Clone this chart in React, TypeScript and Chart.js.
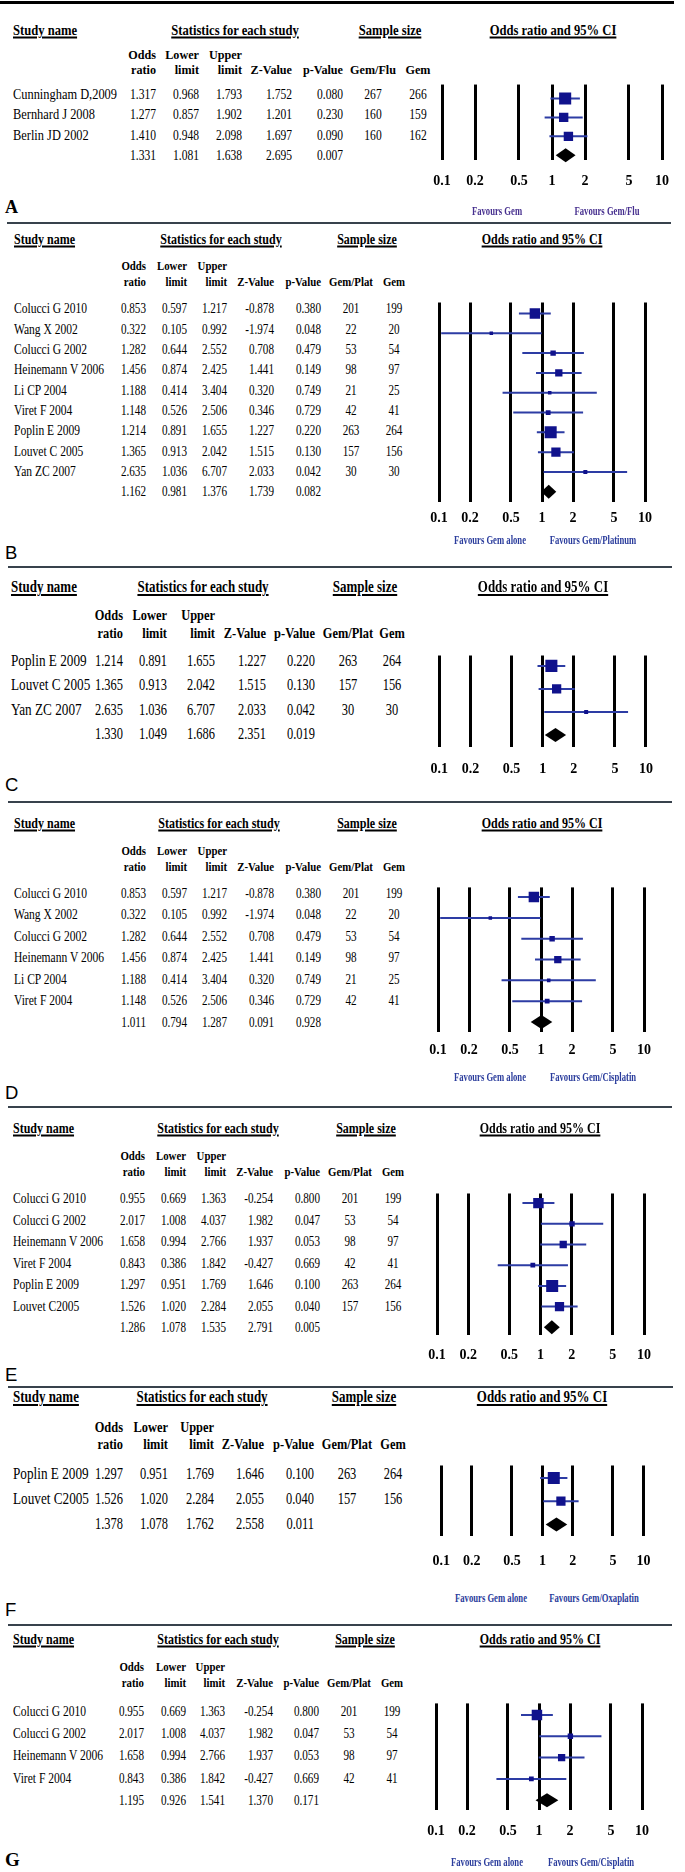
import React, { useEffect, useRef } from "react";
import { Chart, registerables } from "chart.js";

Chart.register(...registerables);

type Row = [string, number, number, number, number, number, number, number];
type Total = [number, number, number, number, number];

// ---- data ----
const TICK_VALUES = [0.1, 0.2, 0.5, 1, 2, 5, 10];

const A_ROWS: Row[] = [
  ["Cunningham D,2009", 1.317, 0.968, 1.793, 1.752, 0.08, 267, 266],
  ["Bernhard J 2008", 1.277, 0.857, 1.902, 1.201, 0.23, 160, 159],
  ["Berlin JD 2002", 1.41, 0.948, 2.098, 1.697, 0.09, 160, 162],
];
const A_TOTAL: Total = [1.331, 1.081, 1.638, 2.695, 0.007];

const B_ROWS: Row[] = [
  ["Colucci G 2010", 0.853, 0.597, 1.217, -0.878, 0.38, 201, 199],
  ["Wang X 2002", 0.322, 0.105, 0.992, -1.974, 0.048, 22, 20],
  ["Colucci G 2002", 1.282, 0.644, 2.552, 0.708, 0.479, 53, 54],
  ["Heinemann V 2006", 1.456, 0.874, 2.425, 1.441, 0.149, 98, 97],
  ["Li CP 2004", 1.188, 0.414, 3.404, 0.32, 0.749, 21, 25],
  ["Viret F 2004", 1.148, 0.526, 2.506, 0.346, 0.729, 42, 41],
  ["Poplin E 2009", 1.214, 0.891, 1.655, 1.227, 0.22, 263, 264],
  ["Louvet C 2005", 1.365, 0.913, 2.042, 1.515, 0.13, 157, 156],
  ["Yan ZC 2007", 2.635, 1.036, 6.707, 2.033, 0.042, 30, 30],
];
const B_TOTAL: Total = [1.162, 0.981, 1.376, 1.739, 0.082];

const C_ROWS: Row[] = [
  ["Poplin E 2009", 1.214, 0.891, 1.655, 1.227, 0.22, 263, 264],
  ["Louvet C 2005", 1.365, 0.913, 2.042, 1.515, 0.13, 157, 156],
  ["Yan ZC 2007", 2.635, 1.036, 6.707, 2.033, 0.042, 30, 30],
];
const C_TOTAL: Total = [1.33, 1.049, 1.686, 2.351, 0.019];

const D_ROWS: Row[] = [
  ["Colucci G 2010", 0.853, 0.597, 1.217, -0.878, 0.38, 201, 199],
  ["Wang X 2002", 0.322, 0.105, 0.992, -1.974, 0.048, 22, 20],
  ["Colucci G 2002", 1.282, 0.644, 2.552, 0.708, 0.479, 53, 54],
  ["Heinemann V 2006", 1.456, 0.874, 2.425, 1.441, 0.149, 98, 97],
  ["Li CP 2004", 1.188, 0.414, 3.404, 0.32, 0.749, 21, 25],
  ["Viret F 2004", 1.148, 0.526, 2.506, 0.346, 0.729, 42, 41],
];
const D_TOTAL: Total = [1.011, 0.794, 1.287, 0.091, 0.928];

const E_ROWS: Row[] = [
  ["Colucci G 2010", 0.955, 0.669, 1.363, -0.254, 0.8, 201, 199],
  ["Colucci G 2002", 2.017, 1.008, 4.037, 1.982, 0.047, 53, 54],
  ["Heinemann V 2006", 1.658, 0.994, 2.766, 1.937, 0.053, 98, 97],
  ["Viret F 2004", 0.843, 0.386, 1.842, -0.427, 0.669, 42, 41],
  ["Poplin E 2009", 1.297, 0.951, 1.769, 1.646, 0.1, 263, 264],
  ["Louvet C2005", 1.526, 1.02, 2.284, 2.055, 0.04, 157, 156],
];
const E_TOTAL: Total = [1.286, 1.078, 1.535, 2.791, 0.005];

const F_ROWS: Row[] = [
  ["Poplin E 2009", 1.297, 0.951, 1.769, 1.646, 0.1, 263, 264],
  ["Louvet C2005", 1.526, 1.02, 2.284, 2.055, 0.04, 157, 156],
];
const F_TOTAL: Total = [1.378, 1.078, 1.762, 2.558, 0.011];

const G_ROWS: Row[] = [
  ["Colucci G 2010", 0.955, 0.669, 1.363, -0.254, 0.8, 201, 199],
  ["Colucci G 2002", 2.017, 1.008, 4.037, 1.982, 0.047, 53, 54],
  ["Heinemann V 2006", 1.658, 0.994, 2.766, 1.937, 0.053, 98, 97],
  ["Viret F 2004", 0.843, 0.386, 1.842, -0.427, 0.669, 42, 41],
];
const G_TOTAL: Total = [1.195, 0.926, 1.541, 1.37, 0.171];

// ---- styles / layout ----
const SERIF = '"Liberation Serif", "Times New Roman", serif';
const SANS = '"Liberation Sans", Arial, sans-serif';
const MARKER = "#10128c";
const CI_LINE = "#2d3ca4";
const FAV_BLUE = "#2a3c9c";
const FAV_PURPLE = "#47308f";

interface Layout {
  letter: string; letterSerif: boolean; letterY: number; letterSize: number;
  sepY: number; sepW: number; sepColor: string; sepX0: number; sepX1: number;
  headY: number; headSize: number; headSx: number;
  studyX: number; statsX: number; sampleX: number; ciX: number;
  sub1: number; sub2: number; subSize: number; subSx: number;
  colR: number[]; colC: number[]; groupLabel: string;
  rowY: number; rowStep: number; rowSize: number; nameSx: number; numSx: number;
  fx0: number; fx1: number; lineTop: number; lineBot: number; tickY: number;
  favY?: number; favX?: number[]; favText?: string[]; favColor?: string;
}

const SMALL = { headSize: 15, headSx: 0.8, subSize: 13.5, subSx: 0.8, rowSize: 15.5, nameSx: 0.745, numSx: 0.72 };
const LARGE = { headSize: 16, headSx: 0.81, subSize: 15.5, subSx: 0.8, rowSize: 17.5, nameSx: 0.755, numSx: 0.71 };

const LAY_A: Layout = {
  letter: "A", letterSerif: true, letterY: 207, letterSize: 18,
  sepY: 2, sepW: 3, sepColor: "#000", sepX0: 0, sepX1: 674,
  headY: 30, headSize: 15, headSx: 0.84, studyX: 13, statsX: 235, sampleX: 390, ciX: 553,
  sub1: 55, sub2: 70, subSize: 13.5, subSx: 0.9,
  colR: [156, 199, 242, 292, 343], colC: [373, 418], groupLabel: "Gem/Flu",
  rowY: 94, rowStep: 20.3, rowSize: 15.5, nameSx: 0.8, numSx: 0.745,
  fx0: 442, fx1: 662, lineTop: 79, lineBot: 160, tickY: 181,
  favY: 211, favX: [497, 607], favText: ["Favours Gem", "Favours Gem/Flu"], favColor: FAV_PURPLE,
};
const LAY_B: Layout = {
  ...SMALL,
  letter: "B", letterSerif: false, letterY: 553, letterSize: 18.5,
  sepY: 223, sepW: 2.5, sepColor: "#38424c", sepX0: 7, sepX1: 671,
  headY: 239, studyX: 14, statsX: 220.5, sampleX: 367, ciX: 542,
  sub1: 266, sub2: 282, colR: [146, 186.7, 226.7, 274, 321], colC: [351, 394], groupLabel: "Gem/Plat",
  rowY: 308.3, rowStep: 20.35,
  fx0: 439, fx1: 645, lineTop: 297, lineBot: 502, tickY: 518,
  favY: 540, favX: [490, 593], favText: ["Favours Gem alone", "Favours Gem/Platinum"], favColor: FAV_BLUE,
};
const LAY_C: Layout = {
  ...LARGE,
  letter: "C", letterSerif: false, letterY: 785, letterSize: 18.5,
  sepY: 567, sepW: 2.5, sepColor: "#38424c", sepX0: 8, sepX1: 672,
  headY: 587, studyX: 11, statsX: 203, sampleX: 365, ciX: 543,
  sub1: 615, sub2: 633, colR: [123, 167, 215, 265.5, 315], colC: [348, 392], groupLabel: "Gem/Plat",
  rowY: 661, rowStep: 24.4,
  fx0: 439, fx1: 646, lineTop: 650, lineBot: 747, tickY: 769,
};
const LAY_D: Layout = {
  ...SMALL,
  letter: "D", letterSerif: false, letterY: 1093, letterSize: 18.5,
  sepY: 802, sepW: 2.5, sepColor: "#38424c", sepX0: 8, sepX1: 672,
  headY: 823, studyX: 14, statsX: 219.4, sampleX: 367, ciX: 542,
  sub1: 851, sub2: 867, colR: [145.5, 186.5, 227, 274, 321], colC: [351, 394], groupLabel: "Gem/Plat",
  rowY: 893, rowStep: 21.45,
  fx0: 438, fx1: 644, lineTop: 883, lineBot: 1032, tickY: 1050,
  favY: 1077, favX: [490, 593], favText: ["Favours Gem alone", "Favours Gem/Cisplatin"], favColor: FAV_BLUE,
};
const LAY_E: Layout = {
  ...SMALL,
  letter: "E", letterSerif: false, letterY: 1375, letterSize: 18.5,
  sepY: 1107, sepW: 2.5, sepColor: "#38424c", sepX0: 8, sepX1: 672,
  headY: 1128, studyX: 13, statsX: 218, sampleX: 365.7, ciX: 539.7,
  sub1: 1156, sub2: 1172, colR: [145, 185.6, 226, 273, 319.6], colC: [350, 392.6], groupLabel: "Gem/Plat",
  rowY: 1198, rowStep: 21.5,
  fx0: 436.7, fx1: 643.2, lineTop: 1188, lineBot: 1335, tickY: 1355,
};
const LAY_F: Layout = {
  ...LARGE,
  letter: "F", letterSerif: false, letterY: 1610, letterSize: 18.5,
  sepY: 1387, sepW: 2.5, sepColor: "#38424c", sepX0: 8, sepX1: 673,
  headY: 1397, studyX: 13, statsX: 202, sampleX: 364, ciX: 542,
  sub1: 1427, sub2: 1444, colR: [123, 168, 214, 264, 314], colC: [347, 393], groupLabel: "Gem/Plat",
  rowY: 1473.5, rowStep: 25,
  fx0: 438.3, fx1: 645.7, lineTop: 1460, lineBot: 1536, tickY: 1561,
  favY: 1598, favX: [490.5, 593.5], favText: ["Favours Gem alone", "Favours Gem/Oxaplatin"], favColor: FAV_BLUE,
};
const LAY_G: Layout = {
  ...SMALL,
  letter: "G", letterSerif: true, letterY: 1859, letterSize: 19,
  sepY: 1625, sepW: 2.5, sepColor: "#38424c", sepX0: 8, sepX1: 672,
  headY: 1639, studyX: 13, statsX: 217.5, sampleX: 365, ciX: 539.7,
  sub1: 1667, sub2: 1683, colR: [144, 185.6, 225, 273, 318.8], colC: [349, 392], groupLabel: "Gem/Plat",
  rowY: 1711, rowStep: 22.2,
  fx0: 435.8, fx1: 642, lineTop: 1699, lineBot: 1810, tickY: 1831,
  favY: 1862, favX: [487, 591], favText: ["Favours Gem alone", "Favours Gem/Cisplatin"], favColor: FAV_BLUE,
};

// ---- components ----
interface TP {
  x: number; y: number; a?: "left" | "right" | "center"; s: number; b?: boolean;
  f?: string; sx?: number; c?: string; u?: boolean; children: React.ReactNode;
}
function T({ x, y, a = "left", s, b = false, f = SERIF, sx = 0.8, c = "#000", u = false, children }: TP) {
  const tx = a === "left" ? "0" : a === "right" ? "-100%" : "-50%";
  const origin = a === "left" ? "left center" : a === "right" ? "right center" : "center center";
  return (
    <div
      style={{
        position: "absolute", left: x, top: y,
        transform: `translate(${tx},-50%) scaleX(${sx})`, transformOrigin: origin,
        fontFamily: f, fontSize: s, fontWeight: b ? 700 : 400, color: c,
        lineHeight: 1, whiteSpace: "nowrap",
        textDecoration: u ? "underline" : "none",
        textUnderlineOffset: "2px", textDecorationThickness: "1.5px",
      }}
    >
      {children}
    </div>
  );
}

const diamondPlugin = {
  id: "summaryDiamond",
  afterDatasetsDraw(chart: any, _args: any, opts: any) {
    const xs = chart.scales.x;
    const ys = chart.scales.y;
    const cy = ys.getPixelForValue(opts.row);
    const ctx = chart.ctx;
    ctx.save();
    ctx.beginPath();
    ctx.moveTo(xs.getPixelForValue(opts.lo), cy);
    ctx.lineTo(xs.getPixelForValue(opts.or), cy - opts.half);
    ctx.lineTo(xs.getPixelForValue(opts.hi), cy);
    ctx.lineTo(xs.getPixelForValue(opts.or), cy + opts.half);
    ctx.closePath();
    ctx.fillStyle = "#000";
    ctx.fill();
    ctx.restore();
  },
};

function Forest({ rows, total, lay }: { rows: Row[]; total: Total; lay: Layout }) {
  const ref = useRef<HTMLCanvasElement>(null);
  const padX = 22, padTop = 3, padBot = 4, fontSize = 14;
  const lineH = fontSize * 1.2;
  const areaH = lay.lineBot - lay.lineTop;
  const tickPad = Math.max(0, lay.tickY - lay.lineBot - lineH / 2);
  // Chart.js reserves the tick padding on both sides of the labels
  const h = Math.round(padTop + areaH + 2 * tickPad + lineH + padBot);
  const w = Math.round(lay.fx1 - lay.fx0 + 2 * padX);

  useEffect(() => {
    if (!ref.current) return;
    const n = rows.length;
    const yMin = -(lay.rowY - lay.lineTop) / lay.rowStep;
    const yMax = yMin + areaH / lay.rowStep;
    const ciData: any[] = [];
    rows.forEach((r, i) => {
      ciData.push({ x: r[2], y: i }, { x: r[3], y: i }, { x: r[3], y: null });
    });
    const squares = rows.map((r, i) => ({ x: r[1], y: i }));
    const radii = rows.map((r) => {
      const se = (Math.log(r[3]) - Math.log(r[2])) / 3.92;
      const side = Math.max(3.5, 1.9 * Math.sqrt(1 / (se * se)));
      return side / Math.SQRT2;
    });
    const chart = new Chart(ref.current, {
      type: "scatter",
      data: {
        datasets: [
          {
            type: "line", data: ciData, borderColor: CI_LINE, borderWidth: 2,
            pointRadius: 0, spanGaps: false, fill: false, tension: 0, order: 2,
          } as any,
          {
            type: "scatter", data: squares, pointStyle: "rect", pointRadius: radii,
            pointHoverRadius: radii, backgroundColor: MARKER, borderWidth: 0, order: 1,
          } as any,
        ],
      },
      options: {
        animation: false, responsive: false, events: [],
        layout: { padding: { left: padX, right: padX, top: padTop, bottom: padBot } },
        plugins: {
          legend: { display: false }, tooltip: { enabled: false },
          summaryDiamond: { or: total[0], lo: total[1], hi: total[2], row: n, half: 7 },
        } as any,
        scales: {
          x: {
            type: "logarithmic", min: 0.1, max: 10,
            afterBuildTicks: (s: any) => { s.ticks = TICK_VALUES.map((v) => ({ value: v })); },
            ticks: {
              autoSkip: false, maxRotation: 0, minRotation: 0, padding: tickPad, color: "#000",
              font: { family: SERIF, size: fontSize, weight: "bold" },
              callback: (v: any) => String(v),
            },
            grid: { color: "#000", lineWidth: 3, drawTicks: false },
            border: { display: false },
          },
          y: { type: "linear", reverse: true, min: yMin, max: yMax, display: false },
        },
      } as any,
      plugins: [diamondPlugin],
    });
    return () => chart.destroy();
  }, []);

  return (
    <canvas
      ref={ref}
      width={w}
      height={h}
      style={{ position: "absolute", left: lay.fx0 - padX, top: lay.lineTop - padTop, width: w, height: h }}
    />
  );
}

function Panel({ rows, total, lay }: { rows: Row[]; total: Total; lay: Layout }) {
  const fmt = (v: number) => v.toFixed(3);
  const rowsAll = rows.length;
  const hs = { s: lay.headSize, sx: lay.headSx, b: true, u: true };
  const ss = { s: lay.subSize, sx: lay.subSx, b: true };
  return (
    <>
      <div
        style={{
          position: "absolute", left: lay.sepX0, top: lay.sepY - lay.sepW / 2,
          width: lay.sepX1 - lay.sepX0, height: lay.sepW, background: lay.sepColor,
        }}
      />
      <T x={lay.studyX} y={lay.headY} {...hs}>Study name</T>
      <T x={lay.statsX} y={lay.headY} a="center" {...hs}>Statistics for each study</T>
      <T x={lay.sampleX} y={lay.headY} a="center" {...hs}>Sample size</T>
      <T x={lay.ciX} y={lay.headY} a="center" {...hs}>Odds ratio and 95% CI</T>

      <T x={lay.colR[0]} y={lay.sub1} a="right" {...ss}>Odds</T>
      <T x={lay.colR[1]} y={lay.sub1} a="right" {...ss}>Lower</T>
      <T x={lay.colR[2]} y={lay.sub1} a="right" {...ss}>Upper</T>
      <T x={lay.colR[0]} y={lay.sub2} a="right" {...ss}>ratio</T>
      <T x={lay.colR[1]} y={lay.sub2} a="right" {...ss}>limit</T>
      <T x={lay.colR[2]} y={lay.sub2} a="right" {...ss}>limit</T>
      <T x={lay.colR[3]} y={lay.sub2} a="right" {...ss}>Z-Value</T>
      <T x={lay.colR[4]} y={lay.sub2} a="right" {...ss}>p-Value</T>
      <T x={lay.colC[0]} y={lay.sub2} a="center" {...ss}>{lay.groupLabel}</T>
      <T x={lay.colC[1]} y={lay.sub2} a="center" {...ss}>Gem</T>

      {rows.map((r, i) => {
        const y = lay.rowY + i * lay.rowStep;
        return (
          <React.Fragment key={i}>
            <T x={lay.studyX} y={y} s={lay.rowSize} sx={lay.nameSx}>{r[0]}</T>
            {[r[1], r[2], r[3], r[4], r[5]].map((v, k) => (
              <T key={k} x={lay.colR[k]} y={y} a="right" s={lay.rowSize} sx={lay.numSx}>{fmt(v)}</T>
            ))}
            <T x={lay.colC[0]} y={y} a="center" s={lay.rowSize} sx={lay.numSx}>{r[6]}</T>
            <T x={lay.colC[1]} y={y} a="center" s={lay.rowSize} sx={lay.numSx}>{r[7]}</T>
          </React.Fragment>
        );
      })}
      {total.map((v, k) => (
        <T key={"t" + k} x={lay.colR[k]} y={lay.rowY + rowsAll * lay.rowStep} a="right" s={lay.rowSize} sx={lay.numSx}>
          {fmt(v)}
        </T>
      ))}

      <Forest rows={rows} total={total} lay={lay} />

      {lay.favText && lay.favX && lay.favText.map((t, k) => (
        <T key={"f" + k} x={lay.favX![k]} y={lay.favY!} a="center" s={12} b sx={0.72} c={lay.favColor}>{t}</T>
      ))}

      <T x={5} y={lay.letterY} s={lay.letterSize} b={lay.letterSerif} f={lay.letterSerif ? SERIF : SANS} sx={1}>
        {lay.letter}
      </T>
    </>
  );
}

export default function App() {
  return (
    <div
      style={{
        position: "absolute", left: 0, top: 0, width: 685, height: 1872,
        background: "#fff", overflow: "hidden",
      }}
    >
      <Panel rows={A_ROWS} total={A_TOTAL} lay={LAY_A} />
      <Panel rows={B_ROWS} total={B_TOTAL} lay={LAY_B} />
      <Panel rows={C_ROWS} total={C_TOTAL} lay={LAY_C} />
      <Panel rows={D_ROWS} total={D_TOTAL} lay={LAY_D} />
      <Panel rows={E_ROWS} total={E_TOTAL} lay={LAY_E} />
      <Panel rows={F_ROWS} total={F_TOTAL} lay={LAY_F} />
      <Panel rows={G_ROWS} total={G_TOTAL} lay={LAY_G} />
    </div>
  );
}
